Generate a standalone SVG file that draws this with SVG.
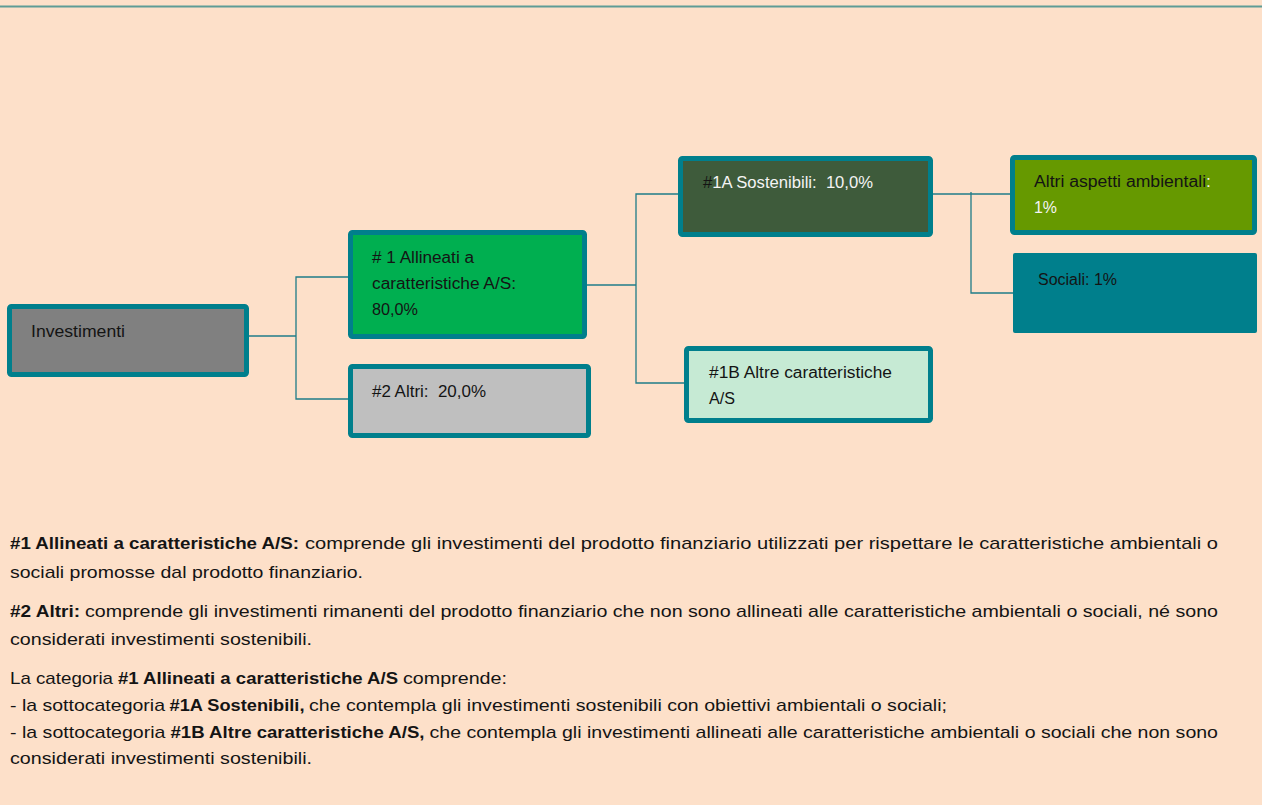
<svg xmlns="http://www.w3.org/2000/svg" width="1262" height="805" viewBox="0 0 1262 805">
<style>
.box{stroke:#007F8C;stroke-width:5}
.t{font-family:"Liberation Sans",Arial,sans-serif;font-size:16px;fill:#141414}
.w{fill:#F4F4F4}
.p{font-family:"Liberation Sans",Arial,sans-serif;font-size:17px;fill:#141414}
.b{font-weight:bold}
.c{fill:none;stroke:#1F7C88;stroke-width:1.3}
</style>
<rect x="0" y="0" width="1262" height="805" fill="#FDE0C9"/>
<line x1="0" y1="6.5" x2="1262" y2="6.5" stroke="#5E9C96" stroke-width="2"/>
<g id="connectors">
<polyline class="c" points="249,336 296,336"/>
<polyline class="c" points="348,277 296,277 296,399 348,399"/>
<polyline class="c" points="587,285 636,285"/>
<polyline class="c" points="679,194 636,194 636,383 684,383"/>
<polyline class="c" points="926,194 1010,194"/>
<polyline class="c" points="971,192 971,293 1013,293"/>
</g>
<g id="investimenti">
<rect class="box" x="9.5" y="306.5" width="237" height="68" rx="2" fill="#808080"/>
<text class="t" x="31" y="337" textLength="94" lengthAdjust="spacingAndGlyphs">Investimenti</text>
</g>
<g id="allineati">
<rect class="box" x="350.5" y="232.5" width="234" height="104" rx="2" fill="#00AF50"/>
<text class="t" x="372" y="263" textLength="102" lengthAdjust="spacingAndGlyphs"># 1 Allineati a</text>
<text class="t" x="372" y="289" textLength="144" lengthAdjust="spacingAndGlyphs">caratteristiche A/S:</text>
<text class="t" x="372" y="315" textLength="46" lengthAdjust="spacingAndGlyphs">80,0%</text>
</g>
<g id="altri">
<rect class="box" x="350.5" y="366.5" width="238" height="69" rx="2" fill="#BFBFBF"/>
<text class="t" x="372" y="397" textLength="114" lengthAdjust="spacingAndGlyphs" xml:space="preserve">#2 Altri:  20,0%</text>
</g>
<g id="sostenibili">
<rect class="box" x="680.5" y="158.5" width="250" height="76" rx="2" fill="#3E5B3B"/>
<text class="t" x="703" y="188" textLength="170" lengthAdjust="spacingAndGlyphs" xml:space="preserve">#<tspan class="w">1A Sostenibili:  10,0%</tspan></text>
</g>
<g id="altre-caratteristiche">
<rect class="box" x="686.5" y="348.5" width="244" height="72" rx="2" fill="#C6EAD4"/>
<text class="t" x="709" y="378" textLength="183" lengthAdjust="spacingAndGlyphs">#1B Altre caratteristiche</text>
<text class="t" x="709" y="404" textLength="26" lengthAdjust="spacingAndGlyphs">A/S</text>
</g>
<g id="ambientali">
<rect class="box" x="1012.5" y="157.5" width="242" height="75" rx="2" fill="#669900"/>
<text class="t" x="1034" y="187" textLength="177" lengthAdjust="spacingAndGlyphs">Altri aspetti ambientali<tspan class="w">:</tspan></text>
<text class="t w" x="1034" y="213" textLength="23" lengthAdjust="spacingAndGlyphs">1%</text>
</g>
<g id="sociali">
<rect x="1013" y="253" width="244" height="80" rx="2" fill="#007F8C"/>
<text class="t" x="1038" y="285" textLength="79" lengthAdjust="spacingAndGlyphs">Sociali: 1%</text>
</g>
<g id="legend">
<text class="p b" x="10" y="549" textLength="289" lengthAdjust="spacingAndGlyphs">#1 Allineati a caratteristiche A/S:</text>
<text class="p" x="305" y="549" textLength="913" lengthAdjust="spacingAndGlyphs">comprende gli investimenti del prodotto finanziario utilizzati per rispettare le caratteristiche ambientali o</text>
<text class="p" x="10" y="578" textLength="353" lengthAdjust="spacingAndGlyphs">sociali promosse dal prodotto finanziario.</text>
<text class="p b" x="10" y="617" textLength="70" lengthAdjust="spacingAndGlyphs">#2 Altri:</text>
<text class="p" x="85" y="617" textLength="1133" lengthAdjust="spacingAndGlyphs">comprende gli investimenti rimanenti del prodotto finanziario che non sono allineati alle caratteristiche ambientali o sociali, né sono</text>
<text class="p" x="10" y="645" textLength="302" lengthAdjust="spacingAndGlyphs">considerati investimenti sostenibili.</text>
<text class="p" x="10" y="684" textLength="103" lengthAdjust="spacingAndGlyphs">La categoria</text>
<text class="p b" x="118" y="684" textLength="280" lengthAdjust="spacingAndGlyphs">#1 Allineati a caratteristiche A/S</text>
<text class="p" x="403" y="684" textLength="104" lengthAdjust="spacingAndGlyphs">comprende:</text>
<text class="p" x="10" y="711" textLength="155" lengthAdjust="spacingAndGlyphs">- la sottocategoria</text>
<text class="p b" x="169.5" y="711" textLength="135" lengthAdjust="spacingAndGlyphs">#1A Sostenibili,</text>
<text class="p" x="309" y="711" textLength="638" lengthAdjust="spacingAndGlyphs">che contempla gli investimenti sostenibili con obiettivi ambientali o sociali;</text>
<text class="p" x="10" y="738" textLength="155.5" lengthAdjust="spacingAndGlyphs">- la sottocategoria</text>
<text class="p b" x="170.5" y="738" textLength="254" lengthAdjust="spacingAndGlyphs">#1B Altre caratteristiche A/S,</text>
<text class="p" x="429.5" y="738" textLength="788.5" lengthAdjust="spacingAndGlyphs">che contempla gli investimenti allineati alle caratteristiche ambientali o sociali che non sono</text>
<text class="p" x="10" y="764" textLength="302" lengthAdjust="spacingAndGlyphs">considerati investimenti sostenibili.</text>
</g>
</svg>
